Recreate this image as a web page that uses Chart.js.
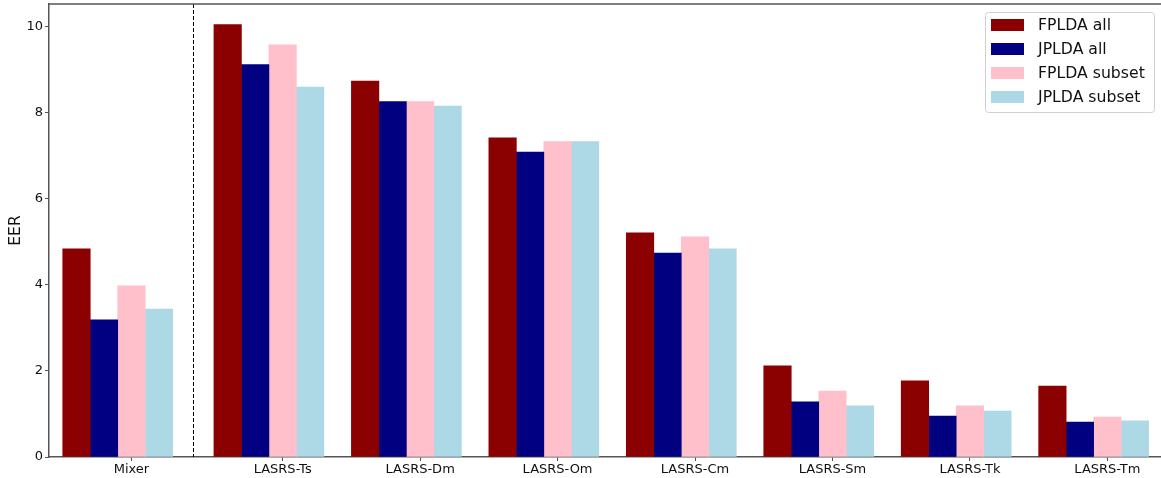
<!DOCTYPE html>
<html>
<head>
<meta charset="utf-8">
<title>EER</title>
<script src="https://cdn.jsdelivr.net/npm/chart.js@4"></script>
<style>
  html, body { margin: 0; padding: 0; background: #fff; }
  #wrap { width: 1161px; height: 478px; position: relative; }
</style>
</head>
<body>
<div id="wrap"><canvas id="eer"></canvas></div>
<script>
// categories and EER values per system
const categories = ['Mixer', 'LASRS-Ts', 'LASRS-Dm', 'LASRS-Om', 'LASRS-Cm', 'LASRS-Sm', 'LASRS-Tk', 'LASRS-Tm'];
const fpldaAll    = [4.84, 10.05, 8.74, 7.42, 5.21, 2.12, 1.77, 1.65];
const jpldaAll    = [3.19,  9.12, 8.26, 7.09, 4.74, 1.28, 0.95, 0.81];
const fpldaSubset = [3.98,  9.58, 8.26, 7.33, 5.12, 1.53, 1.19, 0.93];
const jpldaSubset = [3.44,  8.60, 8.16, 7.33, 4.84, 1.19, 1.07, 0.84];
const seriesNames = ['FPLDA all', 'JPLDA all', 'FPLDA subset', 'JPLDA subset'];
const yTicks = [0, 2, 4, 6, 8, 10];

const colors = ['#8b0000', '#000080', '#ffc0cb', '#add8e6'];
const axisColor = '#555';
const textColor = '#111';
const barW = 0.2;

// Mixer sits a bit apart from the LASRS group
function catPos(i) { return i === 0 ? 0 : i + 0.1; }
// separator in the middle of the gap between Mixer and the first LASRS group
const dividerAt = (catPos(0) + catPos(1)) / 2 - barW / 2;

function seriesData(values, k) {
    return values.map((v, i) => ({
        x: Math.round((catPos(i) + (k - 2) * barW) * 100) / 100,
        y: v
    }));
}

const datasets = [fpldaAll, jpldaAll, fpldaSubset, jpldaSubset].map((vals, k) => ({
    label: seriesNames[k],
    data: seriesData(vals, k),
    backgroundColor: colors[k],
    borderWidth: 0
}));

// dashed separator, top spine and the framed legend
const extras = {
    id: 'extras',
    afterDatasetsDraw(chart) {
        const { ctx, chartArea, scales } = chart;
        const xs = Math.round(scales.x.getPixelForValue(dividerAt)) + 0.5;
        ctx.save();
        ctx.strokeStyle = '#000';
        ctx.lineWidth = 1;
        ctx.setLineDash([4, 2]);
        ctx.beginPath();
        ctx.moveTo(xs, chartArea.top);
        ctx.lineTo(xs, chartArea.bottom);
        ctx.stroke();
        ctx.restore();
    },
    afterDraw(chart) {
        const { ctx, chartArea } = chart;
        ctx.save();
        ctx.strokeStyle = axisColor;
        ctx.lineWidth = 1.5;
        ctx.beginPath();
        ctx.moveTo(chartArea.left, chartArea.top);
        ctx.lineTo(chartArea.right, chartArea.top);
        ctx.stroke();

        const x = chartArea.right - 176, y = chartArea.top + 8, w = 169, h = 100;
        ctx.fillStyle = 'rgba(255,255,255,0.8)';
        ctx.strokeStyle = '#d0d0d0';
        ctx.lineWidth = 1;
        ctx.beginPath();
        ctx.roundRect(x + 0.5, y + 0.5, w, h, 3);
        ctx.fill();
        ctx.stroke();

        ctx.font = '15.7px "DejaVu Sans"';
        ctx.textBaseline = 'middle';
        chart.data.datasets.forEach((ds, i) => {
            const cy = y + 13 + i * 24;
            ctx.fillStyle = ds.backgroundColor;
            ctx.fillRect(x + 6, cy - 6, 33, 12);
            ctx.fillStyle = textColor;
            ctx.fillText(ds.label, x + 53, cy + 1);
        });
        ctx.restore();
    }
};

new Chart(document.getElementById('eer'), {
    type: 'bar',
    data: { datasets: datasets },
    options: {
        responsive: true,
        maintainAspectRatio: false,
        animation: false,
        grouped: false,
        categoryPercentage: 1,
        barPercentage: 1,
        layout: { padding: { top: 4, right: 0, bottom: 0, left: 0 } },
        plugins: {
            legend: { display: false },
            tooltip: { enabled: false }
        },
        scales: {
            x: {
                type: 'linear',
                min: -0.6,
                max: 7.49,
                offset: false,
                afterBuildTicks(scale) {
                    scale.ticks = categories.map((c, i) => ({ value: catPos(i) }));
                },
                afterFit(scale) {
                    scale.height = 21;
                    scale.paddingLeft = 0;
                    scale.paddingRight = 0;
                },
                ticks: {
                    autoSkip: false,
                    maxRotation: 0,
                    padding: 1,
                    color: textColor,
                    font: { family: 'DejaVu Sans', size: 13 },
                    callback: (value, index) => categories[index]
                },
                grid: { offset: false, drawOnChartArea: false, drawTicks: true, tickLength: 4, color: axisColor },
                border: { display: true, color: axisColor, width: 1.5 }
            },
            y: {
                min: 0,
                max: 10.53,
                afterBuildTicks(scale) {
                    scale.ticks = yTicks.map(v => ({ value: v }));
                },
                afterFit(scale) {
                    scale.width = 49;
                    scale.paddingTop = 0;
                    scale.paddingBottom = 0;
                },
                ticks: {
                    padding: 2,
                    color: textColor,
                    font: { family: 'DejaVu Sans', size: 13 }
                },
                grid: { drawOnChartArea: false, drawTicks: true, tickLength: 4, color: axisColor },
                border: { display: true, color: axisColor, width: 1.5 },
                title: {
                    display: true,
                    text: 'EER',
                    color: textColor,
                    padding: { top: 7, bottom: 0 },
                    font: { family: 'DejaVu Sans', size: 15.5 }
                }
            }
        }
    },
    plugins: [extras]
});
</script>
</body>
</html>
